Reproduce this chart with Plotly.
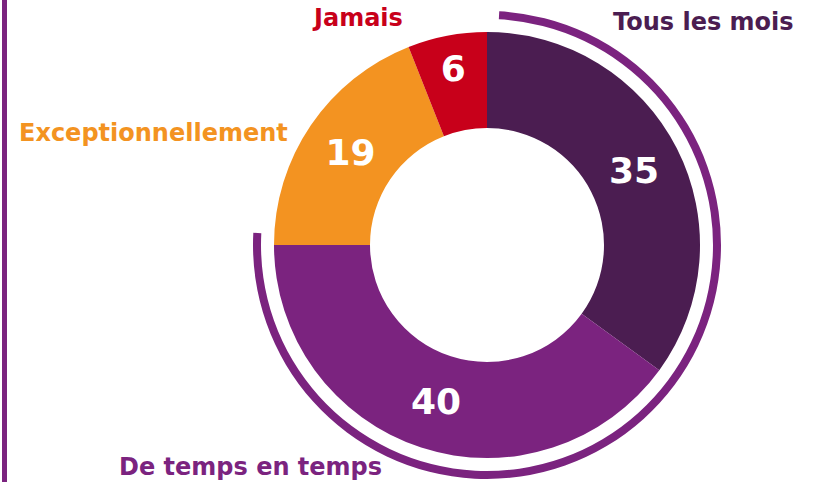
import plotly.graph_objects as go

categories = ["Tous les mois", "De temps en temps", "Exceptionnellement", "Jamais"]
values = [35, 40, 19, 6]
colors = ["#4B1D51", "#7B237F", "#F39321", "#C8001A"]

# outer highlight arc: share of the two most frequent answers
arc_values = [values[0] + values[1], values[2] + values[3]]

W, H = 817, 482
cx, cy = 487, 245          # donut centre in px (from top-left)
r_out, r_in = 213, 117
arc_out, arc_in = 234, 226

def dom(r):
    cyb = H - cy
    return dict(x=[(cx - r) / W, (cx + r) / W], y=[(cyb - r) / H, (cyb + r) / H])

FONT = "DejaVu Sans"

fig = go.Figure()
fig.add_trace(go.Pie(
    values=arc_values, labels=["arc", "rest"], sort=False, direction="clockwise",
    rotation=3, hole=arc_in / arc_out, domain=dom(arc_out),
    marker=dict(colors=["#7B237F", "rgba(0,0,0,0)"], line=dict(width=0)),
    textinfo="none", hoverinfo="skip", showlegend=False,
))
fig.add_trace(go.Pie(
    values=values, labels=categories, sort=False, direction="clockwise",
    rotation=0, hole=r_in / r_out, domain=dom(r_out),
    marker=dict(colors=colors, line=dict(width=0)),
    textinfo="value", textposition="inside", insidetextorientation="horizontal",
    textfont=dict(family=FONT, size=36, color="white", weight="bold"),
    showlegend=False,
))

label_pos = {
    "Tous les mois": (703, 22),
    "De temps en temps": (250, 467),
    "Exceptionnellement": (153, 133),
    "Jamais": (357, 18),
}
label_colors = {"Tous les mois": "#4B1D51", "De temps en temps": "#7B237F",
                "Exceptionnellement": "#F39321", "Jamais": "#C8001A"}
for c in categories:
    x, y = label_pos[c]
    fig.add_annotation(x=x / W, y=1 - y / H, xref="paper", yref="paper",
                       text=c, showarrow=False, xanchor="center", yanchor="middle",
                       font=dict(family=FONT, size=24, color=label_colors[c], weight="bold"))

fig.add_shape(type="line", xref="paper", yref="paper", x0=4.5 / W, x1=4.5 / W, y0=0, y1=1,
              line=dict(color="#7B237F", width=5))

fig.update_layout(width=W, height=H, margin=dict(l=0, r=0, t=0, b=0),
                  paper_bgcolor="white", plot_bgcolor="white")
fig.write_html("out.html", config={"displayModeBar": False},
               post_script="document.body.style.margin='0';document.body.style.overflow='hidden';")
